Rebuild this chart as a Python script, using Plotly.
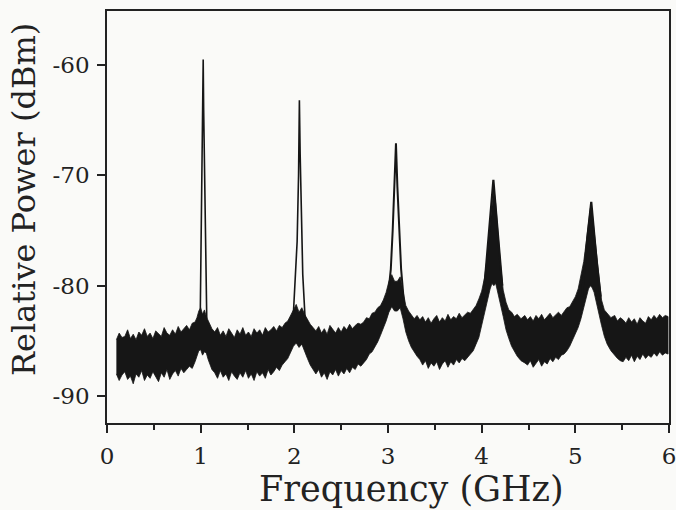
import plotly.graph_objects as go

# ---- noise band (upper / lower envelope of the trace, dBm) ----
band_f = [0.10,0.13,0.16,0.19,0.22,0.25,0.28,0.31,0.34,0.37,0.40,0.43,0.46,0.49,0.52,0.55,0.58,0.61,0.64,0.67,0.70,0.73,0.76,0.79,0.82,0.85,0.88,0.91,0.94,0.96,
          0.98,1.00,1.02,1.04,1.06,1.08,1.10,1.12,
          1.15,1.18,1.21,1.24,1.27,1.30,1.33,1.36,1.39,1.42,1.45,1.48,1.51,1.54,1.57,1.60,1.63,1.66,1.69,1.72,1.75,1.78,1.81,1.84,1.87,
          1.90,1.93,1.96,1.99,2.02,2.05,2.08,2.11,2.14,2.17,2.20,
          2.23,2.26,2.29,2.32,2.35,2.38,2.41,2.44,2.47,2.50,2.53,2.56,2.59,2.62,2.65,2.68,2.71,
          2.74,2.77,2.80,2.83,2.86,2.89,2.92,2.95,2.98,3.01,3.04,3.07,3.10,3.13,3.16,3.19,3.22,3.25,3.28,3.31,3.34,
          3.37,3.40,3.43,3.46,3.49,3.52,3.55,3.58,3.61,3.64,3.67,3.70,3.73,3.76,3.79,3.82,
          3.85,3.88,3.91,3.94,3.97,4.00,4.03,4.06,4.09,4.11,4.13,4.15,4.17,4.20,4.23,4.26,4.29,4.32,4.35,4.38,4.42,4.46,
          4.49,4.52,4.55,4.58,4.61,4.64,4.67,4.70,4.73,4.76,4.79,4.82,4.85,
          4.88,4.91,4.94,4.97,5.00,5.03,5.06,5.09,5.12,5.14,5.16,5.18,5.20,5.22,5.25,5.28,5.31,5.34,5.38,5.42,5.45,5.48,
          5.51,5.54,5.57,5.60,5.63,5.66,5.69,5.72,5.75,5.78,5.81,5.84,5.87,5.90,5.93,5.96,5.99]
band_hi = [-84.9,-84.3,-84.7,-84.6,-84.0,-84.8,-84.4,-84.9,-84.2,-84.5,-83.9,-84.6,-84.3,-84.8,-84.1,-84.4,-84.6,-83.8,-84.3,-84.5,-84.0,-84.4,-83.7,-84.2,-83.9,-83.6,-84.0,-83.4,-83.3,-82.9,
           -82.3,-82.0,-82.6,-82.2,-82.8,-83.2,-83.6,-83.9,
           -84.2,-83.8,-84.5,-84.1,-84.6,-83.9,-84.3,-84.7,-84.0,-84.4,-83.8,-84.5,-84.2,-84.6,-83.9,-84.3,-84.0,-84.5,-83.8,-84.2,-84.0,-83.7,-84.1,-83.6,-83.8,
           -83.4,-83.2,-82.7,-82.1,-81.7,-82.4,-82.0,-82.6,-83.1,-83.5,-83.8,
           -84.1,-83.7,-84.3,-83.9,-84.4,-83.6,-84.0,-84.3,-83.8,-84.2,-83.7,-84.0,-83.5,-83.9,-83.6,-83.4,-83.5,
           -83.3,-82.9,-83.0,-82.5,-82.4,-82.0,-81.8,-81.3,-80.6,-79.6,-79.0,-79.6,-79.6,-79.2,-80.5,-81.8,-82.3,-82.6,-83.0,-82.7,-83.1,
           -82.8,-83.3,-82.9,-83.4,-83.0,-82.7,-83.3,-82.9,-83.2,-82.6,-83.1,-82.8,-83.0,-82.5,-82.9,-82.6,
           -82.4,-82.5,-82.1,-81.8,-81.2,-80.5,-79.3,-77.4,-74.5,-72.5,-71.2,-72.6,-74.8,-78.0,-80.4,-81.5,-82.2,-82.4,-82.8,-82.6,-83.0,-82.7,
           -83.1,-82.8,-83.2,-82.7,-83.0,-82.6,-83.1,-82.8,-82.5,-82.9,-82.6,-82.4,-82.7,
           -82.3,-82.0,-81.9,-81.5,-81.0,-80.3,-79.2,-77.8,-75.8,-74.2,-73.0,-73.4,-75.0,-76.8,-79.3,-81.3,-82.2,-82.5,-82.9,-82.7,-83.2,-82.9,
           -83.1,-83.4,-82.9,-83.3,-83.0,-83.5,-82.9,-83.2,-83.4,-82.8,-83.1,-82.7,-83.0,-82.6,-82.9,-82.7,-82.8]
band_lo = [-88.0,-88.6,-88.1,-87.8,-88.5,-88.2,-88.9,-88.0,-88.3,-87.7,-88.6,-88.1,-88.4,-87.8,-88.2,-88.7,-87.9,-88.3,-87.6,-88.5,-88.0,-87.7,-88.2,-87.5,-87.9,-87.6,-87.3,-87.5,-86.9,-86.5,
           -85.9,-85.8,-86.3,-86.0,-86.1,-86.7,-87.2,-87.6,
           -87.9,-88.4,-87.7,-88.3,-88.0,-88.6,-87.8,-88.2,-88.5,-87.9,-88.3,-87.7,-88.4,-88.0,-88.6,-87.8,-88.2,-87.9,-88.4,-87.6,-88.1,-87.8,-87.4,-87.7,-87.2,
           -86.9,-86.6,-86.0,-85.5,-85.2,-85.6,-85.3,-85.9,-86.6,-87.2,-87.6,
           -88.0,-87.6,-88.3,-87.9,-88.5,-87.8,-88.1,-87.6,-88.2,-87.7,-88.0,-87.5,-87.9,-87.4,-87.6,-87.1,-87.3,
           -87.0,-86.7,-86.2,-86.0,-85.5,-85.1,-84.5,-83.9,-83.2,-82.4,-81.9,-82.3,-82.3,-82.0,-83.0,-84.2,-85.0,-85.6,-86.0,-86.4,-86.7,
           -87.2,-86.8,-87.5,-87.0,-87.3,-86.9,-87.6,-87.1,-86.8,-87.4,-86.9,-87.2,-86.7,-87.0,-86.6,-86.8,
           -86.5,-86.2,-85.9,-85.3,-84.7,-83.8,-82.7,-81.4,-80.3,-79.8,-80.0,-79.8,-80.4,-81.6,-82.8,-84.0,-84.8,-85.5,-86.0,-86.4,-86.8,-87.0,
           -87.2,-86.8,-87.4,-87.0,-86.7,-87.3,-86.9,-87.1,-86.6,-86.9,-86.5,-86.7,-86.3,
           -86.2,-85.9,-85.5,-85.0,-84.4,-83.8,-83.0,-82.2,-81.0,-80.3,-80.0,-80.2,-80.6,-81.2,-82.4,-83.6,-84.6,-85.3,-85.9,-86.3,-86.6,-86.8,
           -86.9,-86.5,-86.8,-86.3,-86.9,-86.4,-86.7,-86.2,-86.6,-86.3,-86.5,-86.1,-86.4,-86.0,-86.3,-86.1,-86.2]

# ---- resonance peaks (traced outline, GHz / dBm) ----
peak1_f = [0.995,1.003,1.012,1.022,1.027,1.032,1.040,1.052,1.065]
peak1_p = [-83.0,-78.0,-72.0,-66.0,-59.5,-64.0,-70.0,-77.0,-83.0]
peak2_f = [1.99,2.005,2.03,2.045,2.054,2.062,2.075,2.09,2.115]
peak2_p = [-82.5,-80.0,-76.0,-70.0,-63.2,-68.0,-74.0,-79.0,-83.0]
peak3_f = [3.00,3.03,3.05,3.07,3.085,3.10,3.12,3.14,3.17]
peak3_p = [-81.0,-78.5,-75.0,-71.0,-67.1,-71.0,-75.0,-78.5,-81.5]
peak4_f = [4.03,4.07,4.10,4.125,4.15,4.18,4.22]
peak4_p = [-80.0,-76.0,-73.0,-70.4,-73.0,-76.0,-80.0]
peak5_f = [5.07,5.10,5.13,5.17,5.20,5.23,5.27]
peak5_p = [-81.0,-78.0,-75.5,-72.4,-75.5,-78.0,-81.0]

x_ticks = [0, 1, 2, 3, 4, 5, 6]
y_ticks = [-90, -80, -70, -60]
y_tick_text = ["-90", "-80", "-70", "-60"]

INK = "#161616"
FONT = "DejaVu Serif"

fig = go.Figure()
fig.add_trace(go.Scatter(
    x=band_f + band_f[::-1], y=band_hi + band_lo[::-1],
    fill="toself", fillcolor=INK, mode="lines",
    line=dict(color=INK, width=0.8), hoverinfo="skip", showlegend=False))
for pf, pp, w in [(peak1_f, peak1_p, 1.6), (peak2_f, peak2_p, 1.6),
                  (peak3_f, peak3_p, 2.0), (peak4_f, peak4_p, 2.2),
                  (peak5_f, peak5_p, 2.2)]:
    fig.add_trace(go.Scatter(x=pf, y=pp, mode="lines",
                             line=dict(color=INK, width=w),
                             hoverinfo="skip", showlegend=False))

axis_common = dict(showgrid=False, zeroline=False, showline=True, mirror=True,
                   linecolor="#222", linewidth=1.5, ticks="outside",
                   tickcolor="#222", tickwidth=1.5, ticklen=8, automargin=False,
                   ticklabeloverflow="allow",
                   tickfont=dict(family=FONT, size=23, color="#222"))

L, R, T, B = 107, 7, 11, 87
W, H = 676, 510
pw, ph = W - L - R, H - T - B

fig.update_layout(
    width=W, height=H,
    margin=dict(l=L, r=R, t=T, b=B),
    paper_bgcolor="#fafaf8", plot_bgcolor="#fafaf8",
    xaxis=dict(range=[0, 6], tickvals=x_ticks, ticklabelstandoff=4,
               minor=dict(ticks="outside", ticklen=5, tickwidth=1.5,
                          tickcolor="#222", dtick=0.5, tick0=0),
               **axis_common),
    yaxis=dict(range=[-92.45, -55.1], tickvals=y_ticks, ticktext=y_tick_text,
               ticklabelstandoff=3, **axis_common),
    annotations=[
        dict(text="Frequency (GHz)", xref="paper", yref="paper",
             x=(411 - L) / pw, y=(H - B - 489) / ph,
             xanchor="center", yanchor="middle", showarrow=False,
             font=dict(family=FONT, size=35, color="#222")),
        dict(text="Relative Power (dBm)", xref="paper", yref="paper",
             x=(24 - L) / pw, y=(H - B - 200) / ph,
             xanchor="center", yanchor="middle", showarrow=False,
             textangle=-90, font=dict(family=FONT, size=32, color="#222")),
    ],
)
fig.write_html("out.html")
